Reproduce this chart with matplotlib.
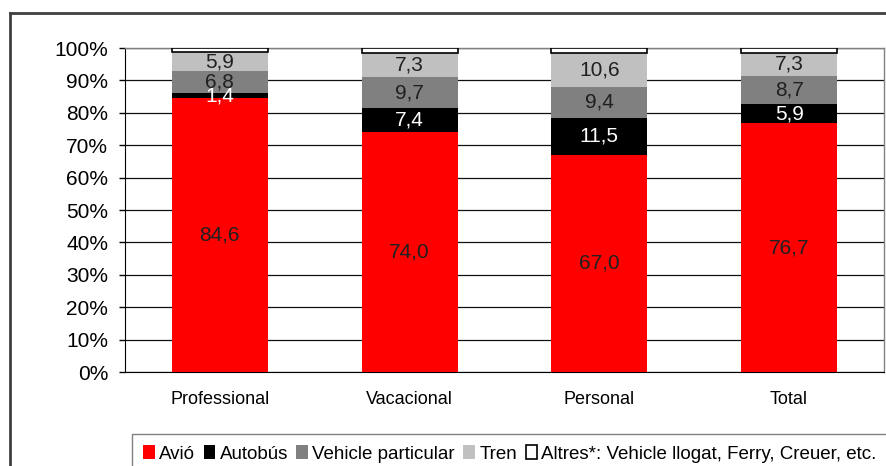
import matplotlib
matplotlib.use("Agg")
import matplotlib.pyplot as plt
from matplotlib.lines import Line2D
import numpy as np

categories = ["Professional", "Vacacional", "Personal", "Total"]
avio = [84.6, 74.0, 67.0, 76.7]
autobus = [1.4, 7.4, 11.5, 5.9]
vehicle = [6.8, 9.7, 9.4, 8.7]
tren = [5.9, 7.3, 10.6, 7.3]
altres = [1.3, 1.6, 1.5, 1.4]
series_names = ["Avió", "Autobús", "Vehicle particular", "Tren",
                "Altres*: Vehicle llogat, Ferry, Creuer, etc."]
yticks = [0, 10, 20, 30, 40, 50, 60, 70, 80, 90, 100]

plt.rcParams['font.family'] = ['Liberation Sans', 'DejaVu Sans']

W, H = 887, 466
fig = plt.figure(figsize=(W / 100, H / 100), dpi=100)
fig.patch.set_facecolor("white")

# outer frame (top and left visible)
for xs, ys in [((10, 887), (13, 13)), ((10, 10), (13, 466))]:
    fig.add_artist(Line2D([x / W for x in xs], [1 - y / H for y in ys],
                          color="#404040", lw=2.0))

left, right, top, bottom = 125, 884, 48, 372
ax = fig.add_axes([left / W, 1 - bottom / H, (right - left) / W, (bottom - top) / H])

x = np.arange(len(categories))
width = 0.505
data = [avio, autobus, vehicle, tren, altres]
colors = ["#FF0000", "#000000", "#808080", "#C0C0C0", "#FFFFFF"]
label_colors = ["#202020", "white", "#202020", "#202020", None]
bottoms = np.zeros(len(categories))
for vals, col, lc, name in zip(data, colors, label_colors, series_names):
    vals = np.array(vals)
    ax.bar(x, vals, width, bottom=bottoms, color=col,
           edgecolor="black" if col == "#FFFFFF" else col,
           linewidth=1.2 if col == "#FFFFFF" else 0, label=name, zorder=3)
    if lc is not None:
        for xi, b, v in zip(x, bottoms, vals):
            ax.text(xi, b + v / 2, f"{v:.1f}".replace(".", ","), ha="center",
                    va="center", color=lc, fontsize=15, zorder=4)
    bottoms += vals

ax.set_xlim(-0.5, len(categories) - 0.5)
ax.set_ylim(0, 100)
ax.set_yticks(yticks)
ax.set_yticklabels([f"{t}%" for t in yticks], fontsize=15)
ax.set_xticks(x)
ax.set_xticklabels(categories, fontsize=13)
ax.tick_params(axis="x", length=0, pad=14)
ax.tick_params(axis="y", length=4, width=1, pad=8, direction="out")
ax.yaxis.grid(True, color="#101010", lw=0.9, zorder=0)
ax.set_axisbelow(True)
for s in ["top", "right"]:
    ax.spines[s].set_color("#808080")
    ax.spines[s].set_linewidth(1)
ax.spines["left"].set_color("black")
ax.spines["bottom"].set_color("black")

handles, labels = ax.get_legend_handles_labels()
leg = fig.legend(handles, labels, loc="upper left",
                 bbox_to_anchor=(132 / W, 1 - 434 / H),
                 ncol=5, fontsize=13.5, frameon=True,
                 handlelength=0.6, handleheight=0.75, handletextpad=0.25,
                 columnspacing=0.45, borderpad=0.6, borderaxespad=0,
                 fancybox=False)
leg.get_frame().set_edgecolor("#606060")
leg.get_frame().set_linewidth(1)

fig.savefig("out.png", dpi=100)
